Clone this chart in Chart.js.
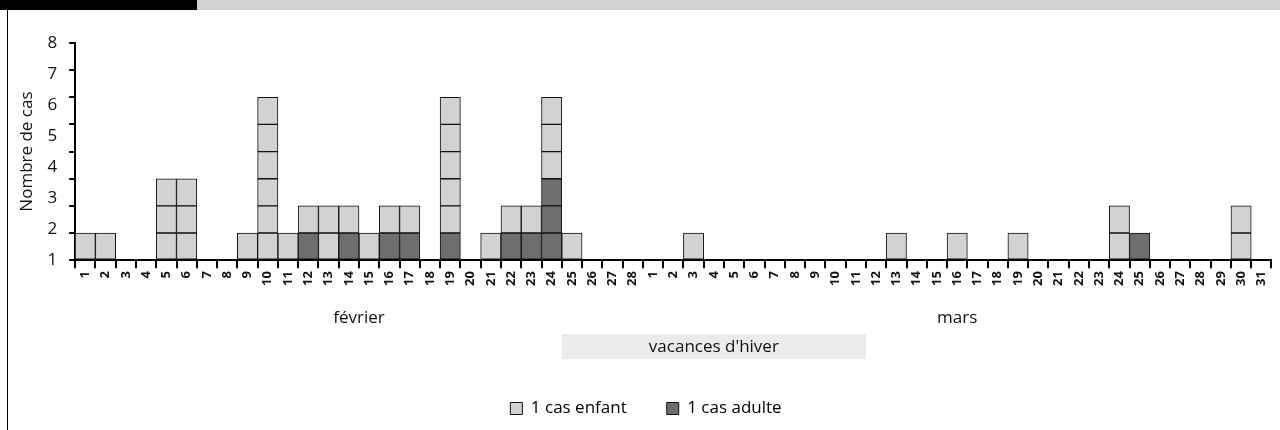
<!DOCTYPE html>
<html>
<head>
<meta charset="utf-8">
<script src="https://cdn.jsdelivr.net/npm/chart.js@4"></script>
<style>
  body { margin: 0; background: #fff; }
  #wrap { position: relative; width: 1280px; height: 430px; }
  #barBlack { position: absolute; left: 0; top: 0; width: 197px; height: 10px; background: #000; }
  #barGrey { position: absolute; left: 197px; top: 0; right: 0; height: 10px; background: #d1d2d4; }
  #frame { position: absolute; left: 7px; top: 10px; bottom: 0; width: 1px; background: #000; }
</style>
</head>
<body>
<div id="wrap">
  <canvas id="epiChart" width="1280" height="430"></canvas>
  <div id="barBlack"></div>
  <div id="barGrey"></div>
  <div id="frame"></div>
</div>
<script>
// months shown on the x axis
const months = ['février', 'mars'];
const monthDays = [28, 31];

// cases per day (1 Feb -> 31 Mar)
const childCases = [
  1, 1, 0, 0, 3, 3, 0, 0, 1, 6, 1, 1, 2, 1, 1, 1, 1, 0, 5, 0, 1, 1, 1, 3, 1, 0, 0, 0,
  0, 0, 1, 0, 0, 0, 0, 0, 0, 0, 0, 0, 1, 0, 0, 1, 0, 0, 1, 0, 0, 0, 0, 2, 0, 0, 0, 0, 0, 2, 0
];
const adultCases = [
  0, 0, 0, 0, 0, 0, 0, 0, 0, 0, 0, 1, 0, 1, 0, 1, 1, 0, 1, 0, 0, 1, 1, 3, 0, 0, 0, 0,
  0, 0, 0, 0, 0, 0, 0, 0, 0, 0, 0, 0, 0, 0, 0, 0, 0, 0, 0, 0, 0, 0, 0, 0, 1, 0, 0, 0, 0, 0, 0
];

// winter holidays: 25 Feb -> 11 Mar
const holidayLabel = "vacances d'hiver";
const holidayFrom = [0, 25];
const holidayTo = [1, 11];

const yLabels = [1, 2, 3, 4, 5, 6, 7, 8];

const childColor = '#d1d2d4';
const adultColor = '#6d6e70';
const lineColor = '#111';
const fontFamily = "'Open Sans', 'Noto Sans', sans-serif";

// day tick labels built from the month lengths
const dayLabels = [];
monthDays.forEach(n => {
  for (let d = 1; d <= n; d++) dayLabels.push(String(d));
});

function dayIndex(m, d) {
  let idx = 0;
  for (let i = 0; i < m; i++) idx += monthDays[i];
  return idx + d - 1;
}

// one stacked dataset per level, so that every case is its own square
const totals = childCases.map((c, i) => c + adultCases[i]);
const maxLevel = Math.max(...totals);
const datasets = [];
for (let k = 0; k < maxLevel; k++) {
  datasets.push({
    label: 'niveau ' + (k + 1),
    data: totals.map(t => (t > k ? 1 : null)),
    backgroundColor: adultCases.map(a => (k < a ? adultColor : childColor)),
    borderColor: lineColor,
    borderWidth: 1,
    borderSkipped: false,
    barPercentage: 1,
    categoryPercentage: 1
  });
}

const annotations = {
  id: 'annotations',
  afterDraw(chart) {
    const ctx = chart.ctx;
    const x = chart.scales.x;
    const bottom = chart.chartArea.bottom;
    const half = (x.getPixelForValue(1) - x.getPixelForValue(0)) / 2;

    ctx.save();
    ctx.fillStyle = '#111';
    ctx.font = '17px ' + fontFamily;
    ctx.textAlign = 'center';
    ctx.textBaseline = 'middle';

    // month names under the days
    let start = 0;
    months.forEach((name, i) => {
      const end = start + monthDays[i] - 1;
      const cx = (x.getPixelForValue(start) + x.getPixelForValue(end)) / 2;
      ctx.fillText(name, cx, bottom + 58);
      start = end + 1;
    });

    // holiday band
    const x0 = x.getPixelForValue(dayIndex(holidayFrom[0], holidayFrom[1])) - half;
    const x1 = x.getPixelForValue(dayIndex(holidayTo[0], holidayTo[1])) + half;
    ctx.fillStyle = '#ebebeb';
    ctx.fillRect(x0, bottom + 74, x1 - x0, 25);
    ctx.fillStyle = '#111';
    ctx.fillText(holidayLabel, (x0 + x1) / 2, bottom + 87);
    ctx.restore();
  }
};

new Chart(document.getElementById('epiChart'), {
  type: 'bar',
  data: { labels: dayLabels, datasets: datasets },
  options: {
    responsive: false,
    animation: false,
    layout: { padding: { left: 17, right: 5, top: 43, bottom: 3 } },
    plugins: {
      tooltip: { enabled: false },
      legend: {
        position: 'bottom',
        labels: {
          color: '#111',
          font: { family: fontFamily, size: 17 },
          boxWidth: 12,
          boxHeight: 12,
          padding: 40,
          generateLabels: () => [
            { text: '1 cas enfant', fillStyle: childColor, strokeStyle: lineColor, lineWidth: 1 },
            { text: '1 cas adulte', fillStyle: adultColor, strokeStyle: lineColor, lineWidth: 1 }
          ]
        }
      }
    },
    scales: {
      x: {
        stacked: true,
        grid: {
          drawOnChartArea: false,
          offset: true,
          color: '#000',
          lineWidth: 2,
          tickLength: 8
        },
        border: { color: '#000', width: 2 },
        ticks: {
          color: '#111',
          font: { family: fontFamily, size: 13, weight: 'bold' },
          minRotation: 90,
          maxRotation: 90,
          autoSkip: false,
          padding: 3
        },
        afterFit: axis => { axis.height += 71; }
      },
      y: {
        stacked: true,
        position: 'left',
        weight: 0,
        min: 0,
        max: 8,
        grid: {
          drawOnChartArea: false,
          color: '#000',
          lineWidth: 2,
          tickLength: 6
        },
        border: { color: '#000', width: 2 },
        ticks: { display: false, stepSize: 1 }
      },
      yLabels: {
        position: 'left',
        weight: 1,
        min: 1,
        max: 8,
        grid: { display: false },
        border: { display: false },
        afterBuildTicks: axis => { axis.ticks = yLabels.map(v => ({ value: v })); },
        ticks: {
          color: '#111',
          font: { family: fontFamily, size: 17 },
          padding: 4
        },
        title: {
          display: true,
          text: 'Nombre de cas',
          color: '#111',
          font: { family: fontFamily, size: 17 },
          padding: { top: 0, bottom: 6 }
        }
      }
    }
  },
  plugins: [annotations]
});
</script>
</body>
</html>
